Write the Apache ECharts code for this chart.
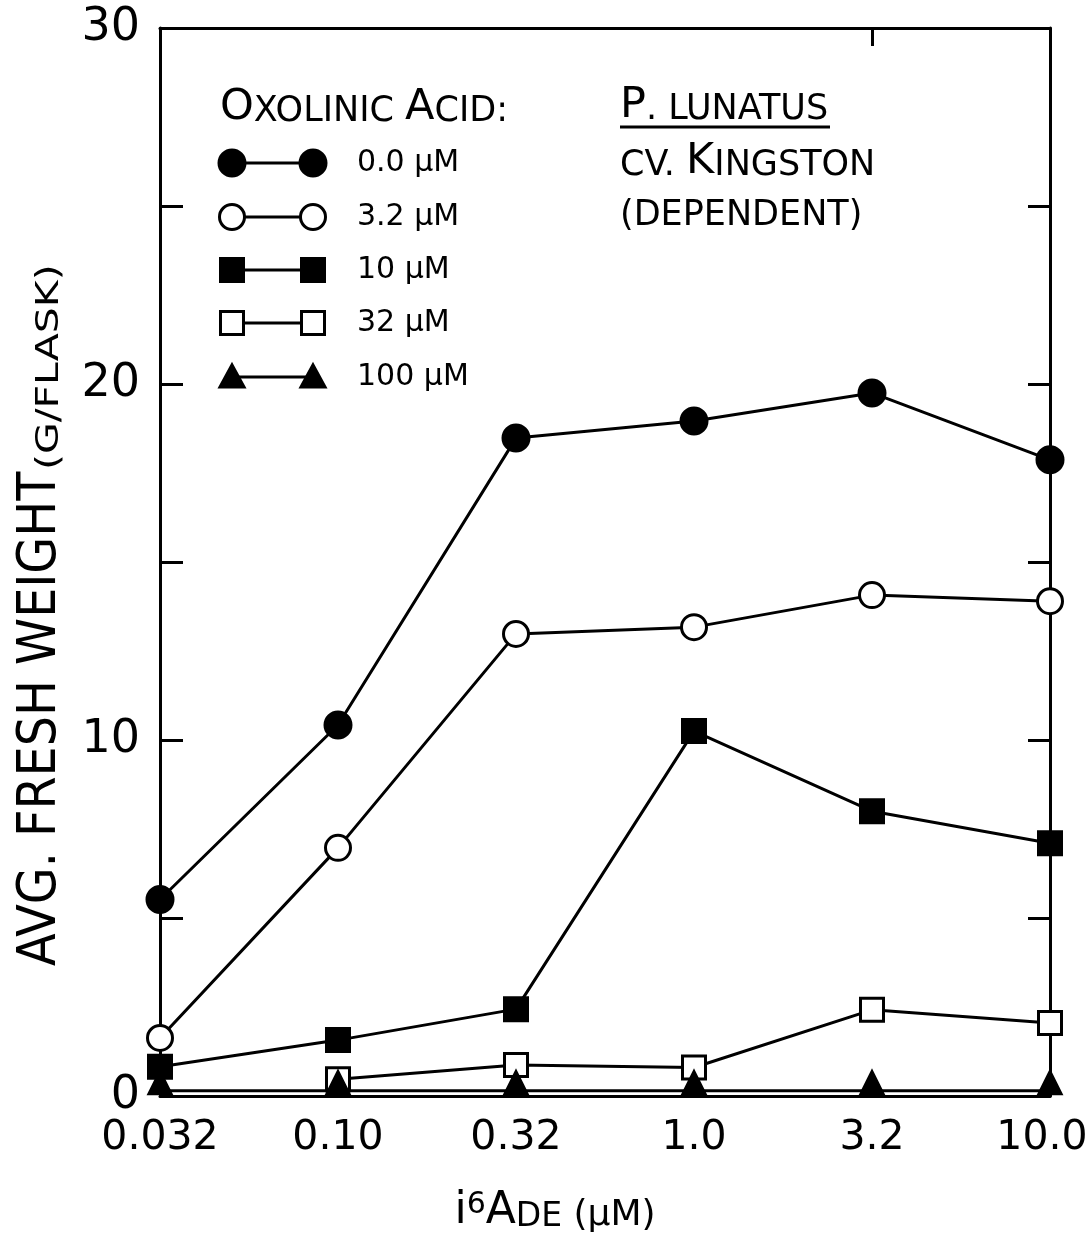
<!DOCTYPE html>
<html>
<head>
<meta charset="utf-8">
<script src="https://cdn.jsdelivr.net/npm/echarts@6/dist/echarts.min.js"></script>
<style>
  html, body { margin: 0; padding: 0; background: #fff; overflow: hidden; }
  #chart { width: 1090px; height: 1238px; }
</style>
</head>
<body>
<div id="chart"></div>
<script>
// i6Ade concentrations (µM), evenly spaced on a log scale
const categories = ['0.032', '0.10', '0.32', '1.0', '3.2', '10.0'];

// Average fresh weight (g/flask) for each oxolinic acid level
const oxolinic0 = [5.52, 10.42, 18.48, 18.96, 19.75, 17.87];
const oxolinic3_2 = [1.63, 6.97, 12.98, 13.17, 14.07, 13.90];
const oxolinic10 = [0.82, 1.57, 2.44, 10.25, 8.00, 7.10];
const oxolinic32 = [null, 0.47, 0.87, 0.80, 2.42, 2.05];
const oxolinic100 = [0.15, 0.15, 0.15, 0.15, 0.15, 0.15];

const yTickLabels = ['0', '10', '20', '30'];

const FONT = '"DejaVu Sans", "Noto Sans", sans-serif';
const INK = '#000';
const LW = 3;

const seriesDefs = [
  { name: '0.0 µM', data: oxolinic0, symbol: 'circle', size: 26, fill: INK },
  { name: '3.2 µM', data: oxolinic3_2, symbol: 'circle', size: 25, fill: '#fff' },
  { name: '10 µM', data: oxolinic10, symbol: 'rect', size: 23, fill: INK },
  { name: '32 µM', data: oxolinic32, symbol: 'rect', size: 23, fill: '#fff' },
  { name: '100 µM', data: oxolinic100, symbol: 'triangle', size: 22, fill: INK, lift: -8 }
];

const series = seriesDefs.map((d, i) => ({
  name: d.name,
  type: 'line',
  data: d.data,
  symbol: d.symbol,
  symbolSize: d.size,
  symbolOffset: d.lift ? [0, d.lift] : [0, 0],
  z: 2 + i,
  lineStyle: { color: INK, width: LW },
  itemStyle: { color: d.fill, borderColor: INK, borderWidth: LW, opacity: 1 },
  emphasis: { disabled: true }
}));

// Hand-built legend: marker — line — marker, then the label
const legendX0 = 232, legendX1 = 313, legendTextX = 357;
const legendRows = [163, 217, 270, 323, 377];
const legendGraphics = [];
seriesDefs.forEach((d, i) => {
  const y = legendRows[i];
  legendGraphics.push({
    type: 'line',
    shape: { x1: legendX0, y1: y, x2: legendX1, y2: y },
    style: { stroke: INK, lineWidth: LW }
  });
  [legendX0, legendX1].forEach(x => {
    const s = d.size;
    let el;
    if (d.symbol === 'circle') {
      el = { type: 'circle', shape: { cx: x, cy: y, r: s / 2 } };
    } else if (d.symbol === 'rect') {
      el = { type: 'rect', shape: { x: x - s / 2, y: y - s / 2, width: s, height: s } };
    } else {
      el = { type: 'polygon', shape: { points: [[x, y - s / 2 - 1], [x + s / 2 + 1, y + s / 2 - 1], [x - s / 2 - 1, y + s / 2 - 1]] } };
    }
    el.style = { fill: d.fill, stroke: INK, lineWidth: LW };
    el.z = 20;
    legendGraphics.push(el);
  });
  legendGraphics.push({
    type: 'text',
    x: legendTextX, y: y,
    style: { text: d.name, font: '30px ' + FONT, fill: INK, textAlign: 'left', textVerticalAlign: 'middle' }
  });
});

// Small-caps lettering styles
const capRich = {
  b: { fontSize: 43, fontFamily: FONT, color: INK, verticalAlign: 'bottom' },
  s: { fontSize: 35, fontFamily: FONT, color: INK, verticalAlign: 'bottom' }
};

function capsText(text, x, y) {
  return {
    type: 'text', x: x, y: y, z: 30,
    style: { text: text, rich: capRich, fill: INK, textAlign: 'left', textVerticalAlign: 'middle' }
  };
}

const TITLE_BIG = '"DejaVu Sans Condensed", "DejaVu Sans", sans-serif';

const textGraphics = [
  capsText('{b|O}{s|XOLINIC }{b|A}{s|CID:}', 220, 108),
  capsText('{b|P}{s|. LUNATUS}', 620, 106),
  {
    type: 'line',
    shape: { x1: 620, y1: 127, x2: 830, y2: 127 },
    style: { stroke: INK, lineWidth: 3 }
  },
  capsText('{s|CV. }{b|K}{s|INGSTON}', 620, 162),
  capsText('{s|(DEPENDENT)}', 620, 216),
  // y-axis title, reading upward: large words, then the unit in small caps
  {
    type: 'text', x: 68, y: 966, rotation: Math.PI / 2, z: 30,
    style: {
      text: 'AVG. FRESH WEIGHT', font: '53px ' + TITLE_BIG, fill: INK,
      textAlign: 'left', textVerticalAlign: 'bottom'
    }
  },
  {
    type: 'text', x: 66, y: 470, rotation: Math.PI / 2, scaleX: 1.28, z: 30,
    style: {
      text: '(G/FLASK)', font: '32px ' + FONT, fill: INK,
      textAlign: 'left', textVerticalAlign: 'bottom'
    }
  },
  // x-axis title
  {
    type: 'text', x: 555, y: 1212, z: 30,
    style: {
      text: '{b|i}{sup|6}{b|A}{s|DE}{m| (µM)}',
      textAlign: 'center', textVerticalAlign: 'middle',
      rich: {
        b: { fontSize: 44, fontFamily: FONT, color: INK, verticalAlign: 'bottom' },
        sup: { fontSize: 30, fontFamily: FONT, color: INK, verticalAlign: 'top' },
        s: { fontSize: 33, fontFamily: FONT, color: INK, verticalAlign: 'bottom' },
        m: { fontSize: 36, fontFamily: FONT, color: INK, verticalAlign: 'bottom' }
      }
    }
  }
];

const frameLine = { show: true, onZero: false, lineStyle: { color: INK, width: 3 } };
const xLabelFont = { fontSize: 41, fontFamily: FONT, color: INK };

const option = {
  animation: false,
  backgroundColor: '#fff',
  grid: { left: 160, right: 40, top: 28, bottom: 142, containLabel: false, outerBoundsMode: 'none' },
  xAxis: [
    {
      type: 'category', data: categories, boundaryGap: false, position: 'bottom',
      axisLine: frameLine,
      axisTick: { show: false },
      axisLabel: Object.assign({
        margin: 22,
        interval: 0,
        hideOverlap: false,
        // keep the last label inside the canvas edge
        formatter: (v, i) => (i === categories.length - 1 ? '{last|' + v + '}' : v),
        rich: { last: Object.assign({ padding: [0, 16, 0, 0] }, xLabelFont) }
      }, xLabelFont),
      splitLine: { show: false }
    },
    {
      type: 'category', data: categories, boundaryGap: false, position: 'top',
      axisLine: frameLine,
      axisTick: { show: true, inside: true, length: 18, interval: (idx) => idx === 4, lineStyle: { color: INK, width: 3 } },
      axisLabel: { show: false },
      splitLine: { show: false }
    }
  ],
  yAxis: [
    {
      type: 'value', min: 0, max: 30, interval: 5, position: 'left',
      axisLine: frameLine,
      axisTick: { show: true, inside: true, length: 23, lineStyle: { color: INK, width: 3 } },
      axisLabel: {
        color: INK, fontSize: 46, fontFamily: FONT, margin: 20,
        formatter: (v) => (yTickLabels.includes(String(v)) ? String(v) : '')
      },
      splitLine: { show: false }
    },
    {
      type: 'value', min: 0, max: 30, interval: 5, position: 'right',
      axisLine: frameLine,
      axisTick: { show: true, inside: true, length: 22, lineStyle: { color: INK, width: 3 } },
      axisLabel: { show: false },
      splitLine: { show: false }
    }
  ],
  series: series,
  graphic: legendGraphics.concat(textGraphics)
};

const chart = echarts.init(document.getElementById('chart'), null, { renderer: 'canvas' });
chart.setOption(option);
</script>
</body>
</html>
